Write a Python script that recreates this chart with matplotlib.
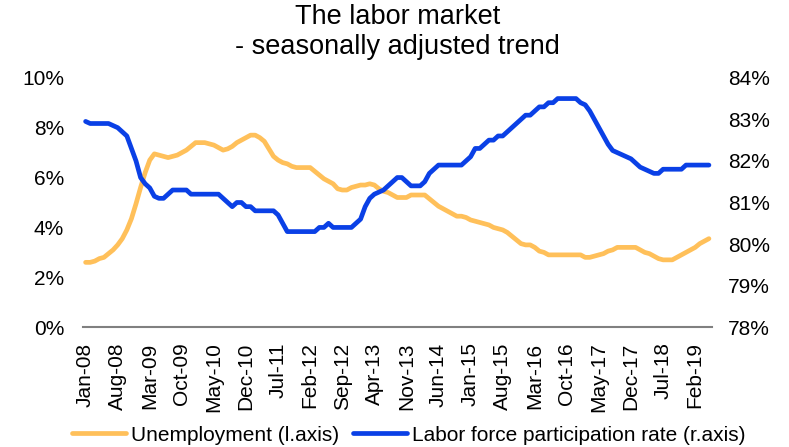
import numpy as np
import pandas as pd
import matplotlib
matplotlib.use("Agg")
import matplotlib.pyplot as plt
from matplotlib.ticker import FuncFormatter

plt.rcParams['font.family'] = ['Liberation Sans', 'DejaVu Sans']

## DATA
months = pd.date_range("2008-01-01", "2019-05-01", freq="MS").strftime("%b-%y").tolist()

# unemployment, % (left axis)
unemployment = [
    2.6, 2.6, 2.65, 2.75, 2.8, 2.95, 3.1, 3.3, 3.55, 3.9,           # 2008-01 .. 2008-10
    4.35, 4.95, 5.6, 6.2, 6.7, 6.95, 6.9, 6.85, 6.8, 6.85,          # .. 2009-08
    6.9, 7.0, 7.1, 7.25, 7.4, 7.4, 7.4, 7.35, 7.3, 7.2,             # .. 2010-06
    7.1, 7.15, 7.25, 7.4, 7.5, 7.6, 7.7, 7.7, 7.6, 7.45,            # .. 2011-04
    7.15, 6.85, 6.7, 6.6, 6.55, 6.45, 6.4, 6.4, 6.4, 6.4,           # .. 2012-02
    6.25, 6.1, 5.95, 5.85, 5.75, 5.55, 5.5, 5.5, 5.6, 5.65,         # .. 2012-12
    5.7, 5.7, 5.75, 5.7, 5.55, 5.45, 5.4, 5.3, 5.2, 5.2,            # .. 2013-10
    5.2, 5.3, 5.3, 5.3, 5.3, 5.15, 5.0, 4.85, 4.75, 4.65,           # .. 2014-08
    4.55, 4.45, 4.45, 4.4, 4.3, 4.25, 4.2, 4.15, 4.1, 4.0,          # .. 2015-06
    3.95, 3.9, 3.8, 3.65, 3.5, 3.35, 3.3, 3.3, 3.2, 3.05,           # .. 2016-04
    3.0, 2.9, 2.9, 2.9, 2.9, 2.9, 2.9, 2.9, 2.9, 2.8,               # .. 2017-02
    2.8, 2.85, 2.9, 2.95, 3.05, 3.1, 3.2, 3.2, 3.2, 3.2,            # .. 2017-12
    3.2, 3.1, 3.0, 2.95, 2.85, 2.75, 2.7, 2.7, 2.7, 2.8,            # .. 2018-10
    2.9, 3.0, 3.1, 3.2, 3.35, 3.45, 3.55,                           # .. 2019-05
]

# labor force participation rate, % (right axis)
participation = [
    82.95, 82.9, 82.9, 82.9, 82.9, 82.9, 82.85, 82.8, 82.7, 82.6,
    82.3, 82.0, 81.6, 81.45, 81.35, 81.15, 81.1, 81.1, 81.2, 81.3,
    81.3, 81.3, 81.3, 81.2, 81.2, 81.2, 81.2, 81.2, 81.2, 81.2,
    81.1, 81.0, 80.9, 81.0, 81.0, 80.9, 80.9, 80.8, 80.8, 80.8,
    80.8, 80.8, 80.7, 80.5, 80.3, 80.3, 80.3, 80.3, 80.3, 80.3,
    80.3, 80.4, 80.4, 80.5, 80.4, 80.4, 80.4, 80.4, 80.4, 80.5,
    80.6, 80.9, 81.1, 81.2, 81.25, 81.3, 81.4, 81.5, 81.6, 81.6,
    81.5, 81.4, 81.4, 81.4, 81.5, 81.7, 81.8, 81.9, 81.9, 81.9,
    81.9, 81.9, 81.9, 82.0, 82.1, 82.3, 82.3, 82.4, 82.5, 82.5,
    82.6, 82.6, 82.7, 82.8, 82.9, 83.0, 83.1, 83.1, 83.2, 83.3,
    83.3, 83.4, 83.4, 83.5, 83.5, 83.5, 83.5, 83.5, 83.4, 83.35,
    83.2, 83.0, 82.8, 82.6, 82.4, 82.25, 82.2, 82.15, 82.1, 82.05,
    81.95, 81.85, 81.8, 81.75, 81.7, 81.7, 81.8, 81.8, 81.8, 81.8,
    81.8, 81.9, 81.9, 81.9, 81.9, 81.9, 81.9,
]

x = np.arange(len(months))

## PLOT
fig = plt.figure(figsize=(7.89, 4.47), dpi=100)
ax = fig.add_axes([0.105, 0.268, 0.797, 0.558])
ax2 = ax.twinx()

l1, = ax.plot(x, unemployment, color='#FFC05A', lw=3.4, solid_capstyle='round',
              label='Unemployment (l.axis)')
l2, = ax2.plot(x, participation, color='#0A40E6', lw=3.4, solid_capstyle='round',
               label='Labor force participation rate (r.axis)')

ax.set_xlim(-0.6, len(months) - 0.4)
ax.set_ylim(0, 10)
ax2.set_ylim(78, 84)
ax.set_yticks(np.arange(0, 11, 2))
ax2.set_yticks(np.arange(78, 85, 1))
ax.yaxis.set_major_formatter(FuncFormatter(lambda v, p: f"{v:.0f}%"))
ax2.yaxis.set_major_formatter(FuncFormatter(lambda v, p: f"{v:.0f}%"))

ax.set_xticks(x[::7])
ax.set_xticklabels(months[::7], rotation=90)

for a in (ax, ax2):
    for s in ('top', 'left', 'right', 'bottom'):
        a.spines[s].set_visible(False)
    a.tick_params(length=0, labelsize=15)
ax.spines['bottom'].set_visible(True)
ax.spines['bottom'].set_color('#808080')
ax.spines['bottom'].set_linewidth(1.5)
ax.tick_params(axis='y', pad=13.5)
ax2.tick_params(axis='y', pad=12)
ax.tick_params(axis='x', pad=11)

fig.text(0.504, 0.992, "The labor market\n- seasonally adjusted trend", ha='center', va='top',
         fontsize=19.5, linespacing=1.2)

fig.legend(handles=[l1, l2], loc='lower center', bbox_to_anchor=(0.518, -0.037), ncol=2,
           frameon=False, fontsize=15, handlelength=2.6, handletextpad=0.2,
           columnspacing=0.7)

plt.savefig("out.png", dpi=100)
